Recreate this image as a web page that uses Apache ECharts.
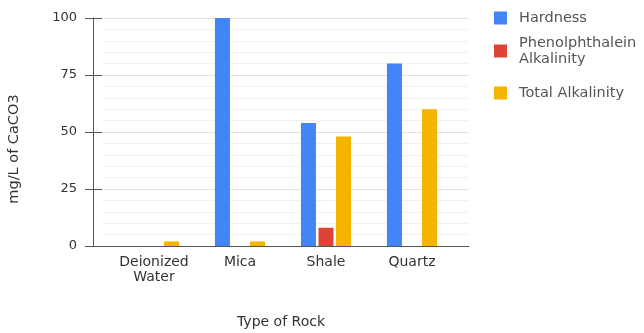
<!DOCTYPE html>
<html>
<head>
<meta charset="utf-8">
<script src="https://cdn.jsdelivr.net/npm/echarts@6/dist/echarts.min.js"></script>
<style>
  html, body { margin: 0; padding: 0; background: #fff; }
  #chart { width: 644px; height: 333px; }
</style>
</head>
<body>
<div id="chart"></div>
<script>
// Water test results by rock type (mg/L of CaCO3)
const categories = ['Deionized\nWater', 'Mica', 'Shale', 'Quartz'];
const hardness = [0, 100, 54, 80];
const phenolphthaleinAlkalinity = [0, 0, 8, 0];
const totalAlkalinity = [2, 2, 48, 60];
const yTicks = [0, 25, 50, 75, 100];

const FONT = 'DejaVu Sans';
const COLORS = ['#4285f4', '#db4437', '#f4b400'];
const Y_MIN = yTicks[0];
const Y_MAX = yTicks[yTicks.length - 1];
const Y_STEP = yTicks[1] - yTicks[0];
const AXIS_COLOR = '#555';

const chart = echarts.init(document.getElementById('chart'));

const legendBase = {
  orient: 'vertical',
  left: 494,
  padding: 0,
  itemWidth: 13,
  itemHeight: 13,
  icon: 'rect',
  selectedMode: false
};
const legendText = { fontFamily: FONT, fontSize: 14.5, color: '#555', lineHeight: 16 };

chart.setOption({
  animation: false,
  color: COLORS,
  grid: [
    // frame: y axis line, labels and baseline
    { left: 93, right: 175, top: 18, bottom: 87 },
    // bars, inset from the frame
    { left: 111, right: 189, top: 18, bottom: 87 },
    // short strip straddling the y axis: its split lines form the crossing tick marks
    { left: 85, right: 542, top: 18, bottom: 87 },
    // light gridlines, starting where the tick marks end
    { left: 102, right: 175, top: 18, bottom: 87 }
  ],
  xAxis: [
    {
      gridIndex: 0, type: 'value', min: 0, max: 1,
      axisLine: { show: true, lineStyle: { color: AXIS_COLOR, width: 1 } },
      axisTick: { show: false }, axisLabel: { show: false }, splitLine: { show: false }
    },
    {
      gridIndex: 1, type: 'category', data: categories,
      axisLine: { show: false }, axisTick: { show: false },
      axisLabel: { fontFamily: FONT, fontSize: 14, color: '#333', lineHeight: 15, margin: 9, interval: 0 }
    },
    { gridIndex: 2, type: 'category', data: [''], show: false },
    { gridIndex: 3, type: 'category', data: [''], show: false }
  ],
  yAxis: [
    {
      // frame axis: line and labels
      gridIndex: 0, type: 'value', min: Y_MIN, max: Y_MAX, interval: Y_STEP,
      axisLine: { show: true, onZero: false, lineStyle: { color: AXIS_COLOR } },
      axisTick: { show: false },
      axisLabel: { fontFamily: FONT, fontSize: 13, color: '#333', margin: 16 },
      splitLine: { show: false }
    },
    {
      gridIndex: 1, type: 'value', min: Y_MIN, max: Y_MAX, show: false
    },
    {
      // tick marks crossing the y axis
      gridIndex: 2, type: 'value', min: Y_MIN, max: Y_MAX, interval: Y_STEP,
      axisLine: { show: false, onZero: false }, axisTick: { show: false }, axisLabel: { show: false },
      splitLine: { show: true, lineStyle: { color: AXIS_COLOR, width: 1 } }
    },
    {
      // major and minor gridlines across the plot
      gridIndex: 3, type: 'value', min: Y_MIN, max: Y_MAX, interval: Y_STEP,
      axisLine: { show: false, onZero: false }, axisTick: { show: false }, axisLabel: { show: false },
      splitLine: { show: true, lineStyle: { color: '#e2e2e2' } },
      minorTick: { show: false, splitNumber: 5 },
      minorSplitLine: { show: true, lineStyle: { color: '#f1f1f1' } }
    }
  ],
  legend: [
    Object.assign({}, legendBase, {
      top: 10, data: ['Hardness'],
      textStyle: Object.assign({ padding: [0, 0, 0, 7] }, legendText)
    }),
    Object.assign({}, legendBase, {
      top: 27, data: ['Phenolphthalein Alkalinity'],
      formatter: () => 'Phenolphthalein\nAlkalinity',
      textStyle: Object.assign({ padding: [16, 0, 0, 7] }, legendText)
    }),
    Object.assign({}, legendBase, {
      top: 85, data: ['Total Alkalinity'],
      textStyle: Object.assign({ padding: [0, 0, 0, 7] }, legendText)
    })
  ],
  series: [
    { name: 'Hardness', type: 'bar', xAxisIndex: 1, yAxisIndex: 1, data: hardness, barWidth: 15, barGap: '17%' },
    { name: 'Phenolphthalein Alkalinity', type: 'bar', xAxisIndex: 1, yAxisIndex: 1, data: phenolphthaleinAlkalinity, barWidth: 15, barGap: '17%' },
    { name: 'Total Alkalinity', type: 'bar', xAxisIndex: 1, yAxisIndex: 1, data: totalAlkalinity, barWidth: 15, barGap: '17%' }
  ],
  graphic: [
    {
      type: 'text', x: 14, y: 149, rotation: Math.PI / 2,
      style: { text: 'mg/L of CaCO3', fontFamily: FONT, fontSize: 14.5, fill: '#333', align: 'center', verticalAlign: 'middle' }
    },
    {
      type: 'text', x: 281, y: 322,
      style: { text: 'Type of Rock', fontFamily: FONT, fontSize: 14, fill: '#333', align: 'center', verticalAlign: 'middle' }
    }
  ]
});
</script>
</body>
</html>
